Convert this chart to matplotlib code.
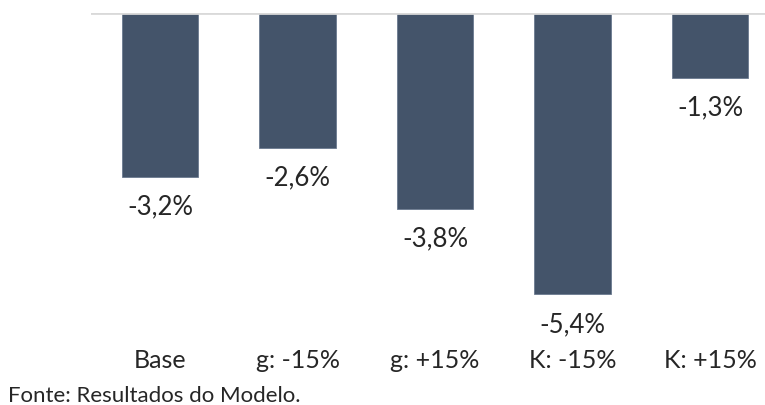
import matplotlib
matplotlib.use("Agg")
import matplotlib.pyplot as plt

plt.rcParams['font.family'] = ['Lato', 'DejaVu Sans']

# dados
categorias = ["Base", "g: -15%", "g: +15%", "K: -15%", "K: +15%"]
valores = [-3.17, -2.61, -3.79, -5.44, -1.26]
rotulos = ["-3,2%", "-2,6%", "-3,8%", "-5,4%", "-1,3%"]
fonte = "Fonte: Resultados do Modelo."

cor_barra = "#44546A"
cor_texto = "#262626"

fig = plt.figure(figsize=(7.65, 4.05), dpi=100)
W, H = 765.0, 405.0
# eixo: zero em y=12.5px, -6.5 em y=349px
ax = fig.add_axes([91.25 / W, 1 - 349 / H, (765 - 91.25) / W, (349 - 12.5) / H])

x = list(range(len(categorias)))
ax.bar(x, valores, width=0.553, color=cor_barra, edgecolor="#6b7a8f", linewidth=0.6, zorder=2)
ax.set_xlim(-0.5, 4.4)
ax.set_ylim(-6.5, 0)

for xi, v, r in zip(x, valores, rotulos):
    ax.annotate(r, (xi, v), xytext=(0, -22), textcoords="offset points",
                ha="center", va="center", fontsize=18.5, color=cor_texto)

ax.axhline(0, color="#d9d9d9", linewidth=2, zorder=3)
for s in ax.spines.values():
    s.set_visible(False)
ax.set_yticks([])
ax.set_xticks(x)
ax.set_xticklabels(categorias, fontsize=18, color=cor_texto)
ax.tick_params(axis="x", length=0, pad=0)

fig.text(8 / W, 1 - 396 / H, fonte, fontsize=16, color=cor_texto, ha="left", va="center")

fig.savefig("out.png", dpi=100)
